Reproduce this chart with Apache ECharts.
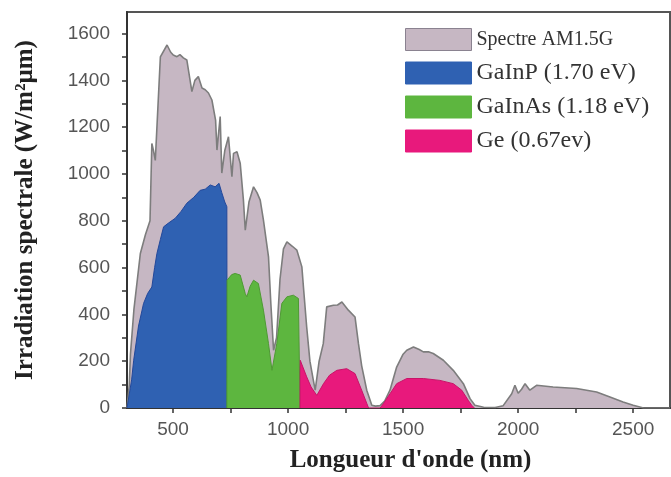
<!DOCTYPE html>
<html>
<head>
<meta charset="utf-8">
<script src="https://cdn.jsdelivr.net/npm/echarts@6/dist/echarts.min.js"></script>
<style>html,body{margin:0;padding:0;background:#fff;}#c{width:671px;height:477px;}</style>
</head>
<body>
<div id="c"></div>
<script>
// ---- data (wavelength nm, irradiance W/m²µm) ----
const seriesNames = ['Spectre AM1.5G', 'GaInP (1.70 eV)', 'GaInAs (1.18 eV)', 'Ge (0.67ev)'];

const amNm  = [300,310,315,330,358,380,400,408,415,423,445,474,490,501,517,530,545,560,582,595,610,626,640,654,669,685,691,705,712,725,741,756,763,778,792,806,814,830,850,865,879,893,915,925,937,950,965,980,995,1020,1038,1060,1068,1081,1095,1110,1118,1135,1153,1168,1197,1215,1234,1262,1291,1306,1320,1342,1364,1380,1400,1420,1443,1472,1500,1516,1545,1570,1588,1610,1631,1675,1718,1762,1791,1812,1850,1900,1935,1972,1986,2000,2015,2030,2051,2080,2152,2254,2341,2399,2456,2500,2545,2660];
const amVal = [0,100,230,420,660,740,800,1130,1100,1058,1500,1551,1520,1508,1501,1510,1496,1487,1352,1400,1416,1367,1360,1346,1316,1230,1102,1245,1004,1100,1159,988,1088,1095,1046,888,760,880,945,920,888,803,646,450,247,300,550,680,710,690,675,603,503,346,200,118,76,200,275,432,439,440,453,418,389,275,180,76,12,8,10,30,76,175,230,247,261,250,240,240,233,204,161,104,40,12,3,2,10,61,97,63,80,104,76,97,90,83,68,47,26,12,0,0];

const gaInPNm  = [300,310,320,329,350,372,390,408,420,430,445,459,480,510,535,560,590,618,640,662,683,700,712,725,734,735];
const gaInPVal = [0,60,120,204,350,447,490,517,600,660,720,774,790,811,840,875,900,930,935,953,945,960,920,880,860,0];

const gaInAsNm  = [734,735,741,755,770,792,814,821,835,850,871,893,915,930,951,973,995,1023,1045,1051,1052];
const gaInAsVal = [0,546,546,570,575,568,489,475,520,546,532,418,275,161,275,447,475,482,468,460,0];

const geNm  = [1052,1053,1060,1081,1100,1125,1154,1180,1212,1255,1291,1320,1342,1350,1400,1414,1443,1472,1516,1588,1660,1718,1755,1783,1798,1810];
const geVal = [0,204,204,133,90,54,104,140,161,168,147,76,20,0,0,18,61,104,126,126,118,104,76,33,12,0];

const xTickLabels = [500, 1000, 1500, 2000, 2500];
const xTickMarks  = [500, 750, 1000, 1250, 1500, 1750, 2000, 2250, 2500];
const yTickLabels = [0, 200, 400, 600, 800, 1000, 1200, 1400, 1600];
const yTickMarks  = [0,100,200,300,400,500,600,700,800,900,1000,1100,1200,1300,1400,1500,1600];

const xTitle = "Longueur d'onde (nm)";
const yTitle = "Irradiation spectrale (W/m²µm)";

// ---- styling ----
const fills   = ['#c6b7c3', '#2f61b2', '#5db63f', '#e8197c'];
const strokes = ['#7d7d7d', '#23489a', '#4e9a33', '#c81468'];

function pairs(xs, ys) { return xs.map((x, i) => [x, ys[i]]); }
const allData = [pairs(amNm, amVal), pairs(gaInPNm, gaInPVal), pairs(gaInAsNm, gaInAsVal), pairs(geNm, geVal)];

const chart = echarts.init(document.getElementById('c'), null, { renderer: 'canvas' });
const serif = '"Liberation Serif", "Times New Roman", serif';
const sans = '"Liberation Sans", Arial, sans-serif';
const plain = v => String(v);

chart.setOption({
  animation: false,
  backgroundColor: '#fff',
  grid: { left: 127, right: 1, top: 12, bottom: 69, containLabel: false, outerBoundsMode: 'none',
          show: true, borderColor: '#555', borderWidth: 2, backgroundColor: 'transparent' },
  legend: {
    orient: 'vertical', left: 400, top: 23,
    itemWidth: 66, itemHeight: 22, itemGap: 10,
    icon: 'rect',
    data: seriesNames.map((n, i) => ({ name: n, itemStyle: { color: fills[i], borderColor: i === 0 ? '#8a8290' : fills[i], borderWidth: 1 } })),
    formatter: function (name) { return name === seriesNames[0] ? '{a|' + name + '}' : '{b|' + name + '}'; },
    textStyle: {
      color: '#333', fontFamily: serif,
      rich: {
        a: { fontSize: 20, fontFamily: serif, color: '#333', lineHeight: 22 },
        b: { fontSize: 24, fontFamily: serif, color: '#333', lineHeight: 22 }
      }
    }
  },
  xAxis: {
    type: 'value', min: 300, max: 2660,
    name: xTitle, nameLocation: 'middle', nameGap: 40,
    nameTextStyle: { fontFamily: serif, fontWeight: 'bold', fontSize: 25, color: '#222', padding: [0, 0, 0, 24] },
    axisLine: { show: true, lineStyle: { color: '#333', width: 2 } },
    axisTick: { show: true, customValues: xTickMarks, length: 5, lineStyle: { color: '#333', width: 1.5 } },
    axisLabel: { customValues: xTickLabels, formatter: plain, fontFamily: sans, fontSize: 19, color: '#555', margin: 12 },
    splitLine: { show: false }
  },
  yAxis: {
    type: 'value', min: 0, max: 1692,
    name: yTitle, nameLocation: 'middle', nameGap: 89, nameRotate: 90,
    nameTextStyle: { fontFamily: serif, fontWeight: 'bold', fontSize: 25, color: '#222' },
    axisLine: { show: true, lineStyle: { color: '#333', width: 2 } },
    axisTick: { show: true, customValues: yTickMarks, length: 5, lineStyle: { color: '#333', width: 1.5 } },
    axisLabel: { customValues: yTickLabels, formatter: plain, fontFamily: sans, fontSize: 19, color: '#555', margin: 17 },
    splitLine: { show: false }
  },
  series: seriesNames.map((n, i) => ({
    name: n, type: 'line', data: allData[i],
    symbol: 'none', smooth: false, z: 2 + i,
    itemStyle: { color: fills[i] },
    lineStyle: { color: strokes[i], width: i === 0 ? 1.6 : 1 },
    areaStyle: { color: fills[i], opacity: 1 }
  }))
});
</script>
</body>
</html>
